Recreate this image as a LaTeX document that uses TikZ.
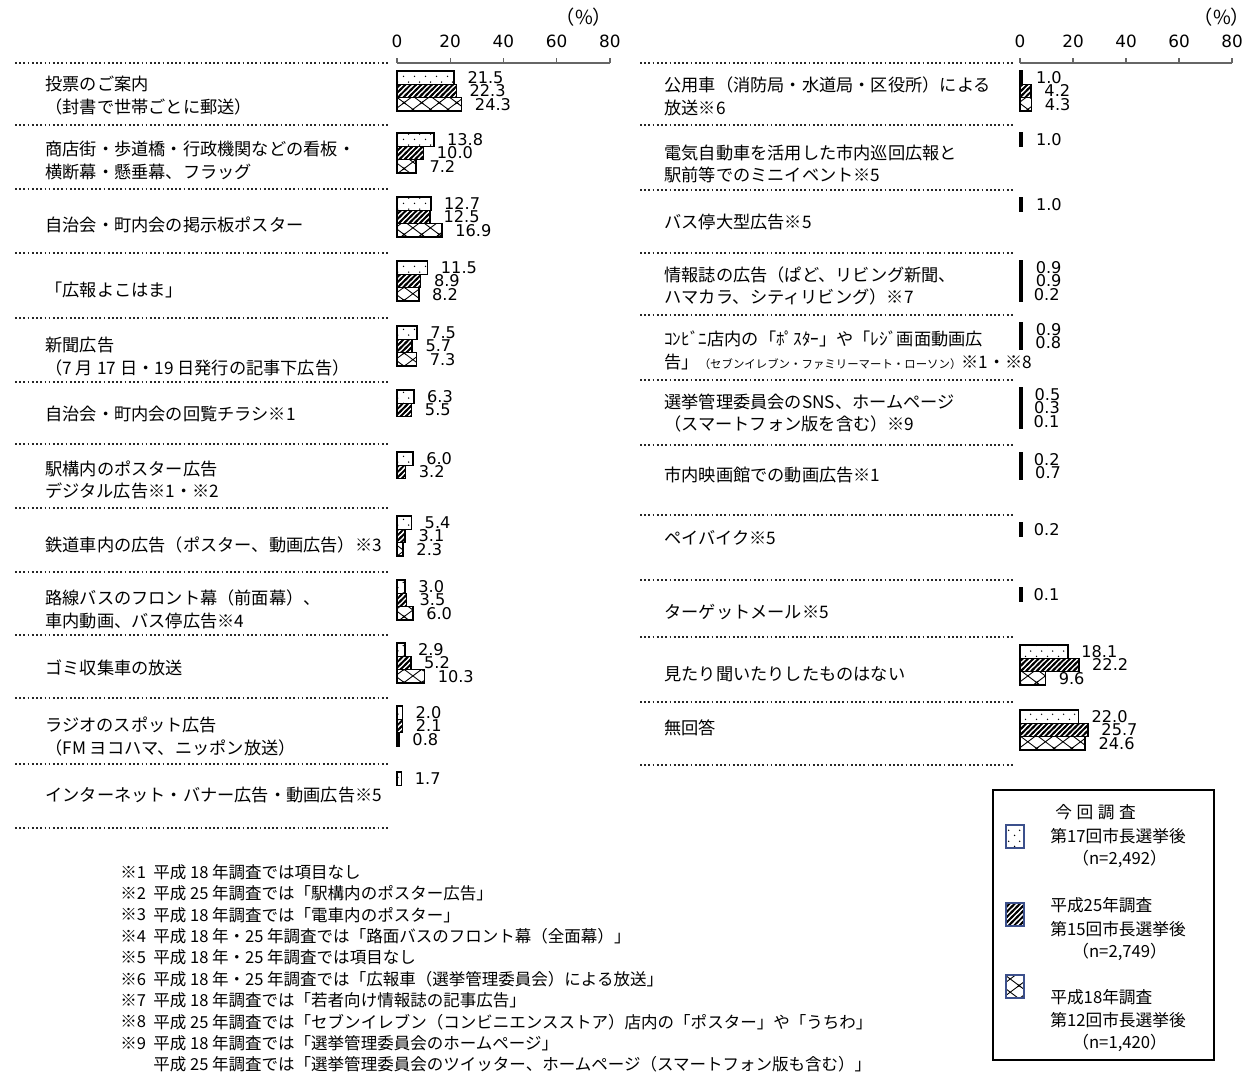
\documentclass[tikz,border=0pt]{standalone}
\usepackage{fontspec}
\setmainfont{Noto Sans CJK JP}
\newfontfamily\numfont{DejaVu Sans}
\usetikzlibrary{patterns}

\definecolor{legblue}{RGB}{60,80,140}

% fill patterns for the three surveys
\pgfdeclarepatternformonly{bardots}{\pgfqpoint{0pt}{0pt}}{\pgfqpoint{6pt}{6pt}}{\pgfqpoint{6pt}{6pt}}{%
  \pgfpathcircle{\pgfqpoint{1.5pt}{1.5pt}}{0.45pt}%
  \pgfpathcircle{\pgfqpoint{4.5pt}{4.5pt}}{0.45pt}%
  \pgfusepath{fill}}
\pgfdeclarepatternformonly{barhatch}{\pgfqpoint{-1pt}{-1pt}}{\pgfqpoint{4pt}{4pt}}{\pgfqpoint{3pt}{3pt}}{%
  \pgfsetlinewidth{1.1pt}%
  \pgfpathmoveto{\pgfqpoint{-0.6pt}{-0.6pt}}%
  \pgfpathlineto{\pgfqpoint{3.6pt}{3.6pt}}%
  \pgfusepath{stroke}}
\pgfdeclarepatternformonly{barcross}{\pgfqpoint{-1.5pt}{-1.5pt}}{\pgfqpoint{11.5pt}{9pt}}{\pgfqpoint{10pt}{7.5pt}}{%
  \pgfsetlinewidth{0.5pt}%
  \pgfpathmoveto{\pgfqpoint{-1pt}{-0.75pt}}\pgfpathlineto{\pgfqpoint{11pt}{8.25pt}}%
  \pgfpathmoveto{\pgfqpoint{-1pt}{8.25pt}}\pgfpathlineto{\pgfqpoint{11pt}{-0.75pt}}%
  \pgfusepath{stroke}}

\begin{document}
\begin{tikzpicture}[
  x=0.02cm, y=-0.02cm,
  bar1/.style={draw, line width=0.9pt, pattern=bardots},
  bar2/.style={draw, line width=0.9pt, pattern=barhatch},
  bar3/.style={draw, line width=0.9pt, pattern=barcross},
  rowline/.style={line width=1.1pt, dash pattern=on 1pt off 1.4pt, black!85},
  axis/.style={line width=0.8pt, black!60},
  item/.style={anchor=west, align=left, inner sep=0pt, font=\fontsize{9.8}{13}\selectfont},
  val/.style={anchor=west, inner sep=0pt, font=\numfont\fontsize{9.2}{9.2}\selectfont},
  axlabel/.style={inner sep=0pt, font=\numfont\fontsize{9.6}{10}\selectfont},
  pct/.style={inner sep=0pt, font=\fontsize{11}{12}\selectfont},
  note/.style={anchor=west, inner sep=0pt, font=\fontsize{9.4}{10}\selectfont},
  legtext/.style={anchor=west, inner sep=0pt, font=\fontsize{9.5}{10}\selectfont},
  swatch/.style={draw=legblue, line width=0.6pt}
]

\fill[white] (0,0) rectangle (1257,1091);
\useasboundingbox (0,0) rectangle (1257,1091);

% Axes
\draw[axis] (397,63) -- (610,63);
\foreach \t in {0,20,40,60,80} {
  \draw[axis] (397+2.66*\t,63) -- ++(0,-5);
  \node[axlabel] (la-\t) at (397+2.66*\t,41) {\t};
}
\node[pct] (lpct) at (584,17) {（\%）};

\draw[axis] (1020,63) -- (1232,63);
\foreach \t in {0,20,40,60,80} {
  \draw[axis] (1020+2.65*\t,63) -- ++(0,-5);
  \node[axlabel] (ra-\t) at (1020+2.65*\t,41) {\t};
}
\node[pct] (rpct) at (1222,17) {（\%）};

% Row separators
\foreach \y in {63,125,189,253,318,382,444,508,572,635,698,764,828}
  \draw[rowline] (15,\y) -- (388,\y);
\foreach \y in {63,125,190,253,315,380,445,515,580,637,702,765}
  \draw[rowline] (640,\y) -- (1015,\y);

% Left items
\foreach \y/\txt [count=\r] in {
  95.5/{投票のご案内\\（封書で世帯ごとに郵送）},
  160.5/{商店街・歩道橋・行政機関などの看板・\\横断幕・懸垂幕、フラッグ},
  225/{自治会・町内会の掲示板ポスター},
  290/{「広報よこはま」},
  356.5/{新聞広告\\（7 月 17 日・19 日発行の記事下広告）},
  414/{自治会・町内会の回覧チラシ※1},
  480/{駅構内のポスター広告\\デジタル広告※1・※2},
  545/{鉄道車内の広告（ポスター、動画広告）※3},
  609/{路線バスのフロント幕（前面幕）、\\車内動画、バス停広告※4},
  668/{ゴミ収集車の放送},
  736.5/{ラジオのスポット広告\\（FM ヨコハマ、ニッポン放送）},
  795/{インターネット・バナー広告・動画広告※5}}
  \node[item] (li-\r) at (45,\y) {\txt};

% Right items
\foreach \y/\txt [count=\r] in {
  96/{公用車（消防局・水道局・区役所）による\\放送※6},
  164/{電気自動車を活用した市内巡回広報と\\駅前等でのミニイベント※5},
  222/{バス停大型広告※5},
  286/{情報誌の広告（ぱど、リビング新聞、\\ハマカラ、シティリビング）※7},
  350/{ｺﾝﾋﾞﾆ店内の「ﾎﾟｽﾀｰ」や「ﾚｼﾞ画面動画広\\告」{\fontsize{6.5}{8}\selectfont（セブンイレブン・ファミリーマート・ローソン）}※1・※8},
  413/{選挙管理委員会のSNS、ホームページ\\（スマートフォン版を含む）※9},
  475/{市内映画館での動画広告※1},
  538/{ペイバイク※5},
  612/{ターゲットメール※5},
  674/{見たり聞いたりしたものはない},
  728/{無回答}}
  \node[item] (ri-\r) at (664,\y) {\txt};

% Left bars (this survey, 2013, 2006)
\foreach \yt/\vals [count=\r] in {
  63/{21.5,22.3,24.3}, 125/{13.8,10.0,7.2}, 189/{12.7,12.5,16.9},
  253/{11.5,8.9,8.2}, 318/{7.5,5.7,7.3}, 382/{6.3,5.5}, 444/{6.0,3.2},
  508/{5.4,3.1,2.3}, 572/{3.0,3.5,6.0}, 635/{2.9,5.2,10.3},
  698/{2.0,2.1,0.8}, 764/{1.7}} {
  \foreach \v [count=\i] in \vals {
    \draw[bar\i] (397,\yt+8+13.3*\i-13.3) rectangle ++({max(2.66*\v,2.4)},13.3);
    \ifdim\v pt<1.05pt
      \fill[black] (397,\yt+8+13.3*\i-13.3) rectangle ++(2.4,13.3);
    \fi
    \node[val] (lv-\r-\i) at (397+2.66*\v+13,\yt+8+13.3*\i-6.65) {\v};
  }
}

% Right bars
\foreach \yt/\vals [count=\r] in {
  63/{1.0,4.2,4.3}, 125/{1.0}, 190/{1.0}, 253/{0.9,0.9,0.2},
  315/{0.9,0.8}, 380/{0.5,0.3,0.1}, 445/{0.2,0.7}, 515/{0.2},
  580/{0.1}, 637/{18.1,22.2,9.6}, 702/{22.0,25.7,24.6}} {
  \foreach \v [count=\i] in \vals {
    \draw[bar\i] (1020,\yt+8+13.3*\i-13.3) rectangle ++({max(2.65*\v,2.4)},13.3);
    \ifdim\v pt<1.05pt
      \fill[black] (1020,\yt+8+13.3*\i-13.3) rectangle ++(2.4,13.3);
    \fi
    \node[val] (rv-\r-\i) at (1020+2.65*\v+13,\yt+8+13.3*\i-6.65) {\v};
  }
}

% Legend
\draw[line width=0.6pt] (993,790) rectangle (1214,1060);
\draw[swatch, pattern=bardots] (1006,825) rectangle (1024,848);
\draw[swatch, pattern=barhatch] (1006,903) rectangle (1024,926);
\draw[swatch, pattern=barcross] (1006,975) rectangle (1024,998);
\node[legtext] (g1a) at (1055,812) {今\hspace{2.6pt}回\hspace{2.6pt}調\hspace{2.6pt}査};
\node[legtext] (g1b) at (1050,836) {第17回市長選挙後};
\node[legtext] (g1c) at (1072,859) {（n=2,492）};
\node[legtext] (g2a) at (1050,905) {平成25年調査};
\node[legtext] (g2b) at (1050,929) {第15回市長選挙後};
\node[legtext] (g2c) at (1072,952) {（n=2,749）};
\node[legtext] (g3a) at (1050,997) {平成18年調査};
\node[legtext] (g3b) at (1050,1020) {第12回市長選挙後};
\node[legtext] (g3c) at (1072,1043) {（n=1,420）};

% Footnotes
\foreach \m/\txt [count=\k] in {
  ※1/{平成 18 年調査では項目なし},
  ※2/{平成 25 年調査では「駅構内のポスター広告」},
  ※3/{平成 18 年調査では「電車内のポスター」},
  ※4/{平成 18 年・25 年調査では「路面バスのフロント幕（全面幕）」},
  ※5/{平成 18 年・25 年調査では項目なし},
  ※6/{平成 18 年・25 年調査では「広報車（選挙管理委員会）による放送」},
  ※7/{平成 18 年調査では「若者向け情報誌の記事広告」},
  ※8/{平成 25 年調査では「セブンイレブン（コンビニエンスストア）店内の「ポスター」や「うちわ」},
  ※9/{平成 18 年調査では「選挙管理委員会のホームページ」}} {
  \node[note] (fm-\k) at (120,872+21.4*\k-21.4) {\m};
  \node[note] (ft-\k) at (153,872+21.4*\k-21.4) {\txt};
}
\node[note] (ft-10) at (153,1064.6) {平成 25 年調査では「選挙管理委員会のツイッター、ホームページ（スマートフォン版も含む）」};

\end{tikzpicture}
\end{document}
